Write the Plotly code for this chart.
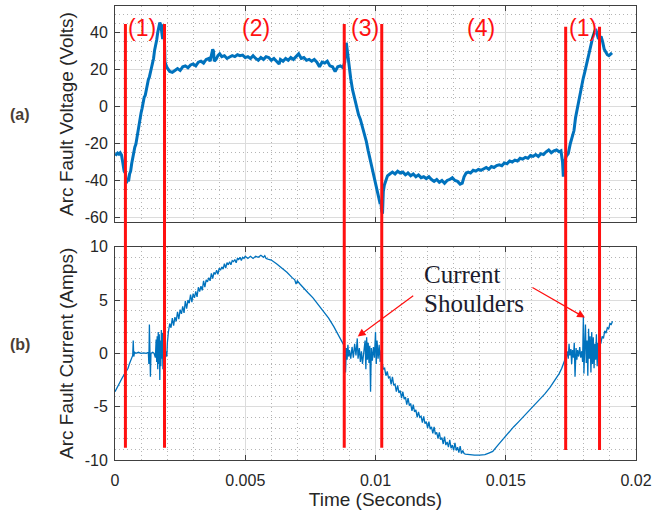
import plotly.graph_objects as go

# ---------------- data ----------------
volt_t = [0.00000, 0.00005, 0.00010, 0.00015, 0.00020, 0.00025, 0.00030, 0.00035, 0.00040, 0.00044,
          0.00048, 0.00052, 0.00056, 0.00060, 0.00064, 0.00068, 0.00072, 0.00076, 0.00080, 0.00084,
          0.00088, 0.00092, 0.00096, 0.00100, 0.00104, 0.00108, 0.00112, 0.00116, 0.00120, 0.00124,
          0.00128, 0.00132, 0.00136, 0.00140, 0.00144, 0.00148, 0.00152, 0.00156, 0.00160, 0.00164,
          0.00168, 0.00172, 0.00176, 0.00180, 0.00183, 0.00186, 0.00189, 0.00192, 0.00196, 0.00200,
          0.00210, 0.00220, 0.00230, 0.00240, 0.00250, 0.00260, 0.00270, 0.00280, 0.00290, 0.00300,
          0.00310, 0.00320, 0.00330, 0.00340, 0.00350, 0.00360, 0.00365, 0.00370, 0.00375, 0.00378,
          0.00381, 0.00388, 0.00395, 0.00402, 0.00410, 0.00420, 0.00430, 0.00440, 0.00450, 0.00460,
          0.00470, 0.00480, 0.00490, 0.00500, 0.00510, 0.00520, 0.00530, 0.00540, 0.00550, 0.00560,
          0.00570, 0.00580, 0.00590, 0.00600, 0.00610, 0.00620, 0.00630, 0.00635, 0.00645, 0.00655,
          0.00665, 0.00675, 0.00685, 0.00695, 0.00705, 0.00715, 0.00725, 0.00735, 0.00745, 0.00755,
          0.00765, 0.00775, 0.00785, 0.00795, 0.00805, 0.00815, 0.00825, 0.00835, 0.00845, 0.00855,
          0.00865, 0.00875, 0.00882, 0.00888, 0.00893, 0.00899, 0.00905, 0.00912, 0.00920, 0.00928,
          0.00935, 0.00942, 0.00950, 0.00958, 0.00965, 0.00972, 0.00978, 0.00985, 0.00992, 0.01000,
          0.01006, 0.01012, 0.01016, 0.01020, 0.01024, 0.01027, 0.01030, 0.01034, 0.01040, 0.01046,
          0.01055, 0.01065, 0.01075, 0.01085, 0.01095, 0.01105, 0.01115, 0.01125, 0.01135, 0.01145,
          0.01155, 0.01165, 0.01175, 0.01185, 0.01195, 0.01205, 0.01215, 0.01225, 0.01235, 0.01245,
          0.01255, 0.01265, 0.01275, 0.01285, 0.01295, 0.01305, 0.01315, 0.01325, 0.01333, 0.01340,
          0.01348, 0.01356, 0.01365, 0.01375, 0.01385, 0.01395, 0.01405, 0.01415, 0.01425, 0.01435,
          0.01445, 0.01455, 0.01465, 0.01475, 0.01485, 0.01495, 0.01505, 0.01515, 0.01525, 0.01535,
          0.01545, 0.01555, 0.01565, 0.01575, 0.01585, 0.01595, 0.01605, 0.01615, 0.01625, 0.01635,
          0.01645, 0.01655, 0.01665, 0.01675, 0.01685, 0.01695, 0.01705, 0.01712, 0.01718, 0.01721,
          0.01725, 0.01732, 0.01740, 0.01748, 0.01755, 0.01762, 0.01768, 0.01775, 0.01782, 0.01790,
          0.01797, 0.01804, 0.01810, 0.01816, 0.01822, 0.01828, 0.01834, 0.01840, 0.01845, 0.01850,
          0.01855, 0.01860, 0.01866, 0.01872, 0.01878, 0.01884, 0.01890, 0.01896, 0.01902, 0.01908]
volt_v = [-25.5, -26.0, -25.2, -25.8, -25.0, -26.2, -30.5, -35.0, -36.0, -41.5,
          -39.0, -40.5, -36.5, -35.0, -31.0, -27.5, -25.5, -22.0, -20.5, -17.0,
          -12.0, -10.5, -7.0, -3.5, -1.0, 2.5, 5.0, 6.0, 9.5, 12.0,
          14.5, 16.0, 19.5, 21.0, 23.5, 26.0, 30.5, 33.0, 36.0, 40.0,
          43.5, 45.5, 44.0, 38.5, 36.5, 44.5, 40.0, 24.0, 22.5, 21.0,
          19.0, 18.5, 19.5, 20.5, 19.5, 21.5, 22.0, 21.0, 22.5, 23.0,
          22.0, 24.0, 24.5, 23.5, 25.5, 26.0, 24.5, 28.0, 31.0, 30.0,
          24.5, 25.5, 27.5, 28.5, 27.0, 27.5, 26.0, 26.8, 27.5, 27.0,
          28.0, 27.5, 27.8, 26.5, 27.0, 26.0, 27.5, 26.0, 25.0, 26.5,
          25.5, 27.0, 26.5, 25.0, 26.0, 24.5, 23.0, 25.5, 24.5, 26.0,
          25.0, 26.5, 25.5, 27.0, 28.5, 26.0, 26.5, 25.0, 25.5, 24.5,
          25.5, 24.0, 21.5, 24.0, 23.5, 24.5, 22.0, 21.5, 19.0, 21.5,
          22.0, 21.0, 24.0, 34.5, 28.0, 23.0, 15.0, 9.0, 4.0, 0.5,
          -4.5, -7.0, -11.0, -14.5, -19.0, -24.0, -27.5, -32.5, -36.0, -41.0,
          -44.5, -49.0, -51.5, -51.0, -56.5, -58.0, -46.0, -42.5, -40.0, -37.5,
          -36.5, -35.5, -36.5, -35.0, -36.0, -35.5, -37.0, -36.0, -37.5, -36.5,
          -38.0, -37.0, -38.5, -38.0, -39.0, -38.0, -39.5, -40.5, -39.5, -41.0,
          -40.0, -41.5, -40.0, -39.5, -38.5, -40.0, -40.5, -42.0, -41.5, -38.0,
          -36.0, -35.5, -36.0, -34.5, -35.0, -34.0, -34.5, -33.5, -33.0, -34.0,
          -32.5, -33.0, -32.0, -31.5, -32.0, -30.5, -31.0, -29.5, -30.0, -29.0,
          -29.5, -28.0, -28.5, -27.5, -28.0, -26.5, -27.0, -26.0, -27.0, -25.5,
          -26.0, -24.5, -23.5, -25.0, -24.0, -23.5, -24.5, -24.0, -30.0, -38.0,
          -30.5, -27.0, -25.5, -20.0, -16.0, -13.0, -6.0, -1.0, 6.0, 10.0,
          15.0, 19.0, 23.0, 27.5, 31.0, 34.0, 37.5, 40.0, 42.0, 39.5,
          37.0, 36.5, 38.0, 35.0, 31.0, 29.5, 28.0, 27.5, 28.5, 29.0]

curr_t = [0.00000, 0.00010, 0.00020, 0.00030, 0.00040, 0.00045, 0.00050, 0.00055, 0.00060, 0.00064,
          0.00068, 0.00070, 0.00072, 0.00075, 0.00080, 0.00090, 0.00100, 0.00110, 0.00120, 0.00128,
          0.00130, 0.00132, 0.00134, 0.00136, 0.00138, 0.00145, 0.00150, 0.00155, 0.00158, 0.00160,
          0.00162, 0.00164, 0.00166, 0.00168, 0.00170, 0.00172, 0.00174, 0.00176, 0.00178, 0.00180,
          0.00182, 0.00184, 0.00186, 0.00188, 0.00190, 0.00193, 0.00196, 0.00199, 0.00201, 0.00203,
          0.00205, 0.00210, 0.00215, 0.00220, 0.00225, 0.00230, 0.00235, 0.00240, 0.00245, 0.00250,
          0.00255, 0.00260, 0.00265, 0.00270, 0.00275, 0.00280, 0.00285, 0.00290, 0.00295, 0.00300,
          0.00305, 0.00310, 0.00315, 0.00320, 0.00325, 0.00330, 0.00335, 0.00340, 0.00345, 0.00350,
          0.00355, 0.00360, 0.00365, 0.00370, 0.00375, 0.00380, 0.00385, 0.00390, 0.00395, 0.00400,
          0.00405, 0.00410, 0.00415, 0.00420, 0.00425, 0.00430, 0.00435, 0.00440, 0.00445, 0.00450,
          0.00455, 0.00460, 0.00465, 0.00470, 0.00475, 0.00480, 0.00485, 0.00490, 0.00495, 0.00500,
          0.00510, 0.00520, 0.00530, 0.00540, 0.00550, 0.00560, 0.00570, 0.00575, 0.00580, 0.00590,
          0.00600, 0.00620, 0.00640, 0.00660, 0.00680, 0.00690, 0.00695, 0.00700, 0.00710, 0.00720,
          0.00740, 0.00760, 0.00780, 0.00800, 0.00820, 0.00840, 0.00860, 0.00876, 0.00882, 0.00885,
          0.00888, 0.00891, 0.00894, 0.00897, 0.00900, 0.00905, 0.00910, 0.00915, 0.00920, 0.00925,
          0.00930, 0.00933, 0.00938, 0.00942, 0.00946, 0.00950, 0.00955, 0.00960, 0.00963, 0.00966,
          0.00969, 0.00972, 0.00975, 0.00978, 0.00981, 0.00984, 0.00988, 0.00992, 0.00996, 0.01000,
          0.01003, 0.01006, 0.01010, 0.01014, 0.01018, 0.01022, 0.01026, 0.01030, 0.01035, 0.01040,
          0.01045, 0.01050, 0.01055, 0.01060, 0.01065, 0.01070, 0.01075, 0.01080, 0.01085, 0.01090,
          0.01095, 0.01100, 0.01105, 0.01110, 0.01115, 0.01120, 0.01125, 0.01130, 0.01135, 0.01140,
          0.01145, 0.01150, 0.01155, 0.01160, 0.01165, 0.01170, 0.01175, 0.01180, 0.01185, 0.01190,
          0.01195, 0.01200, 0.01205, 0.01210, 0.01215, 0.01220, 0.01225, 0.01230, 0.01235, 0.01240,
          0.01245, 0.01250, 0.01255, 0.01260, 0.01265, 0.01270, 0.01275, 0.01280, 0.01285, 0.01290,
          0.01295, 0.01300, 0.01305, 0.01310, 0.01315, 0.01320, 0.01325, 0.01330, 0.01335, 0.01340,
          0.01345, 0.01360, 0.01380, 0.01400, 0.01420, 0.01435, 0.01450, 0.01470, 0.01490, 0.01510,
          0.01530, 0.01550, 0.01570, 0.01590, 0.01610, 0.01630, 0.01650, 0.01670, 0.01690, 0.01705,
          0.01715, 0.01722, 0.01727, 0.01730, 0.01733, 0.01736, 0.01740, 0.01743, 0.01746, 0.01750,
          0.01753, 0.01756, 0.01760, 0.01763, 0.01766, 0.01770, 0.01773, 0.01776, 0.01780, 0.01784,
          0.01788, 0.01792, 0.01795, 0.01798, 0.01800, 0.01803, 0.01806, 0.01809, 0.01812, 0.01815,
          0.01818, 0.01821, 0.01824, 0.01827, 0.01830, 0.01833, 0.01836, 0.01839, 0.01842, 0.01845,
          0.01848, 0.01851, 0.01854, 0.01857, 0.01860, 0.01865, 0.01870, 0.01875, 0.01880, 0.01885,
          0.01890, 0.01895, 0.01900, 0.01905, 0.01910]
curr_i = [-3.6, -3.1, -2.6, -2.2, -1.8, -1.6, -1.4, -1.0, -0.7, -0.5,
          -0.2, 1.2, -0.3, 0.1, 0.0, 0.1, 0.0, 0.05, 0.0, 0.1,
          -1.0, 2.7, -0.2, -2.2, 0.0, 0.1, 0.0, -0.4, 1.3, -0.8,
          1.6, -1.5, 2.0, -1.0, 1.8, -2.5, 1.2, -1.2, 2.2, -0.5,
          1.9, -1.5, 2.0, -0.8, 1.0, -0.5, 0.2, -0.3, 1.0, 2.0,
          2.0, 2.8, 2.4, 3.3, 2.6, 3.4, 3.0, 3.9, 3.2, 4.1,
          3.7, 4.4, 3.8, 4.9, 4.2, 5.0, 4.7, 5.5, 4.8, 5.6,
          5.2, 5.8, 5.3, 6.2, 5.8, 6.3, 5.9, 6.8, 6.2, 6.9,
          6.7, 7.1, 6.8, 7.5, 7.0, 7.6, 7.4, 7.8, 7.4, 8.0,
          7.8, 8.1, 7.9, 8.4, 8.0, 8.5, 8.3, 8.6, 8.3, 8.7,
          8.6, 8.8, 8.5, 8.9, 8.8, 9.0, 8.7, 9.0, 8.9, 9.1,
          8.9, 9.1, 8.9, 9.1, 9.0, 9.2, 9.0, 9.15, 8.9, 8.8,
          8.75, 8.4, 8.0, 7.6, 7.1, 6.9, 6.5, 6.8, 6.5, 6.2,
          5.7, 5.2, 4.6, 4.0, 3.3, 2.5, 1.6, 0.9, 0.6, -1.8,
          0.5, -0.6, 0.8, -0.3, 0.3, -0.5, 0.6, -0.4, 0.9, -0.2,
          1.4, -0.5, 0.5, -0.8, 0.2, -1.0, 0.4, 1.2, -1.5, 1.5,
          -0.6, 1.0, -0.9, 0.7, -3.6, 0.5, -0.7, 0.6, -0.4, 2.0,
          -1.0, 1.2, -0.5, 0.8, -0.8, 0.3, -0.9,
          -1.5, -1.4, -2.1, -1.7, -2.3, -2.2, -2.9, -2.2, -3.0, -2.9,
          -3.6, -3.0, -3.7, -3.5, -4.2, -3.6, -4.3, -4.1, -4.8, -4.2,
          -4.9, -4.7, -5.4, -4.8, -5.5, -5.3, -6.0, -5.5, -6.0, -5.9,
          -6.5, -5.9, -6.6, -6.4, -7.0, -6.4, -7.1, -6.9, -7.5, -6.9,
          -7.6, -7.4, -8.0, -7.4, -8.1, -7.9, -8.5, -7.8, -8.6, -8.3,
          -8.8, -8.1, -8.9, -8.6, -9.1, -8.4, -9.1, -8.8, -9.3, -8.7,
          -9.4, -9.1, -9.4,
          -9.45, -9.5, -9.55, -9.55, -9.5, -9.35, -9.2, -8.6, -8.0, -7.4,
          -6.9, -6.4, -5.9, -5.4, -4.9, -4.3, -3.8, -3.2, -2.5, -1.9,
          -1.4, -1.0, -0.6, 0.6, -0.3, 0.2, -0.5, 0.9, -0.2, 0.4,
          -1.0, 0.3, -0.4, 1.0, -2.2, 0.5, -0.6, 0.3, -0.3, 0.6,
          -0.4, 0.2, -0.8, 3.4, -1.9, 0.5, 2.7, -0.9, 1.2, -2.1,
          2.3, -0.5, 1.6, -1.8, 2.0, -1.0, 1.5, -1.4, 0.9, -0.6,
          1.8, -1.2, 1.0, 0.2, 1.3, 0.9, 1.6, 1.4, 2.1, 1.9,
          2.4, 2.3, 2.8, 2.7, 3.0]

boundary_t = [0.0004, 0.0019, 0.0088, 0.01024, 0.0173, 0.0186]
region_labels = ["(1)", "(2)", "(3)", "(4)", "(1)"]
region_t = [0.00105, 0.00541, 0.00960, 0.01405, 0.01797]
region_v = [42.6, 42.6, 42.6, 42.6, 42.6]

x_ticks = [0, 0.005, 0.01, 0.015, 0.02]
x_ticktext = ["0", "0.005", "0.01", "0.015", "0.02"]
v_ticks = [-60, -40, -20, 0, 20, 40]
v_ticktext = ["-60", "-40", "-20", "0", "20", "40"]
i_ticks = [-10, -5, 0, 5, 10]
i_ticktext = ["-10", "-5", "0", "5", "10"]

shoulder_t = [0.009317, 0.01804]
shoulder_i = [1.57, 3.35]

# ---------------- figure ----------------
BLUE = "#0072BD"
RED = "#ff1010"
TXT = "#262626"
AX = "#404040"
FONT = "Liberation Sans"
L, R, T, B = 115, 17, 6, 58
W, H = 653, 518
plot_w = W - L - R
plot_h = H - T - B

fig = go.Figure()
fig.add_trace(go.Scatter(x=volt_t, y=volt_v, mode="lines", xaxis="x", yaxis="y",
                         line=dict(color=BLUE, width=3), showlegend=False, hoverinfo="skip"))
fig.add_trace(go.Scatter(x=curr_t, y=curr_i, mode="lines", xaxis="x2", yaxis="y2",
                         line=dict(color=BLUE, width=1.3), showlegend=False, hoverinfo="skip"))

MINOR_GRID = dict(showgrid=True, gridcolor="#b4b4b4", griddash="1px,3px", gridwidth=1)
common_x = dict(range=[0, 0.02], tickvals=x_ticks, ticktext=x_ticktext, ticks="inside", ticklen=5,
                tickcolor=AX, showline=True, linecolor=AX, linewidth=1, mirror="ticks",
                showgrid=True, gridcolor="#dcdcdc", gridwidth=1, zeroline=False, automargin=False,
                minor=dict(dtick=0.001, **MINOR_GRID),
                tickfont=dict(family=FONT, size=16, color=TXT))
common_y = dict(ticks="inside", ticklen=5, tickcolor=AX, showline=True, linecolor=AX, linewidth=1,
                mirror="ticks", showgrid=True, gridcolor="#dcdcdc", gridwidth=1, zeroline=False,
                automargin=False, tickfont=dict(family=FONT, size=16, color=TXT), ticklabelstandoff=3)

fig.update_layout(
    width=W, height=H,
    margin=dict(l=L, r=R, t=T, b=B, autoexpand=False),
    paper_bgcolor="white", plot_bgcolor="white",
    xaxis=dict(**common_x, domain=[0, 1], anchor="y", showticklabels=False),
    xaxis2=dict(**common_x, domain=[0, 1], anchor="y2", ticklabelstandoff=6,
                title=dict(text="Time (Seconds)", font=dict(family=FONT, size=19, color=TXT), standoff=4)),
    yaxis=dict(**common_y, domain=[(H - B - 222) / plot_h, 1], anchor="x", range=[-62.5, 54.4],
               tickvals=v_ticks, ticktext=v_ticktext, minor=dict(dtick=5, **MINOR_GRID),
               title=dict(text="Arc Fault Voltage (Volts)", font=dict(family=FONT, size=19, color=TXT), standoff=6)),
    yaxis2=dict(**common_y, domain=[0, (H - B - 246.7) / plot_h], anchor="x2", range=[-10, 10],
                tickvals=i_ticks, ticktext=i_ticktext, minor=dict(dtick=1, **MINOR_GRID),
                title=dict(text="Arc Fault Current (Amps)", font=dict(family=FONT, size=19, color=TXT), standoff=6)),
)

# red boundary lines across both panels
shapes = []
for k, t in enumerate(boundary_t):
    top_px = 24 if k < 4 else 26.7
    bot_px = 447.7 if k < 4 else 450
    shapes.append(dict(type="line", xref="x2", yref="paper", x0=t, x1=t,
                       y0=(H - B - bot_px) / plot_h, y1=(H - B - top_px) / plot_h,
                       line=dict(color=RED, width=3), layer="above"))
fig.update_layout(shapes=shapes)

ann = []
for lab, t, v in zip(region_labels, region_t, region_v):
    ann.append(dict(x=t, y=v, xref="x", yref="y", text=lab, showarrow=False,
                    font=dict(family=FONT, size=23, color=RED), xanchor="center", yanchor="middle"))

# panel labels (pixel positions converted to paper coords)
for lab, px, py in [("(a)", 20, 115), ("(b)", 20, 345)]:
    ann.append(dict(x=(px - L) / plot_w, y=(H - B - py) / plot_h, xref="paper", yref="paper",
                    text="<b>" + lab + "</b>", showarrow=False, xanchor="center", yanchor="middle",
                    font=dict(family=FONT, size=16, color="#4a3f35")))

# arrows
ann.append(dict(x=shoulder_t[0], y=shoulder_i[0], xref="x2", yref="y2", ax=57, ay=-42,
                showarrow=True, arrowhead=2, arrowsize=1.3, arrowwidth=1.2, arrowcolor=RED, text=""))
ann.append(dict(x=shoulder_t[1], y=shoulder_i[1], xref="x2", yref="y2", ax=-54, ay=-31,
                showarrow=True, arrowhead=2, arrowsize=1.3, arrowwidth=1.2, arrowcolor=RED, text=""))
for word, yv in [("Current", 7.35), ("Shoulders", 4.63)]:
    ann.append(dict(x=0.011785, y=yv, xref="x2", yref="y2", text=word, showarrow=False,
                    xanchor="left", yanchor="middle", align="left",
                    font=dict(family="Liberation Serif", size=25, color="#1c1c2e")))

fig.update_layout(annotations=ann)
fig.write_html("out.html", config={"displayModeBar": False},
               post_script="document.body.style.margin='0px';")
